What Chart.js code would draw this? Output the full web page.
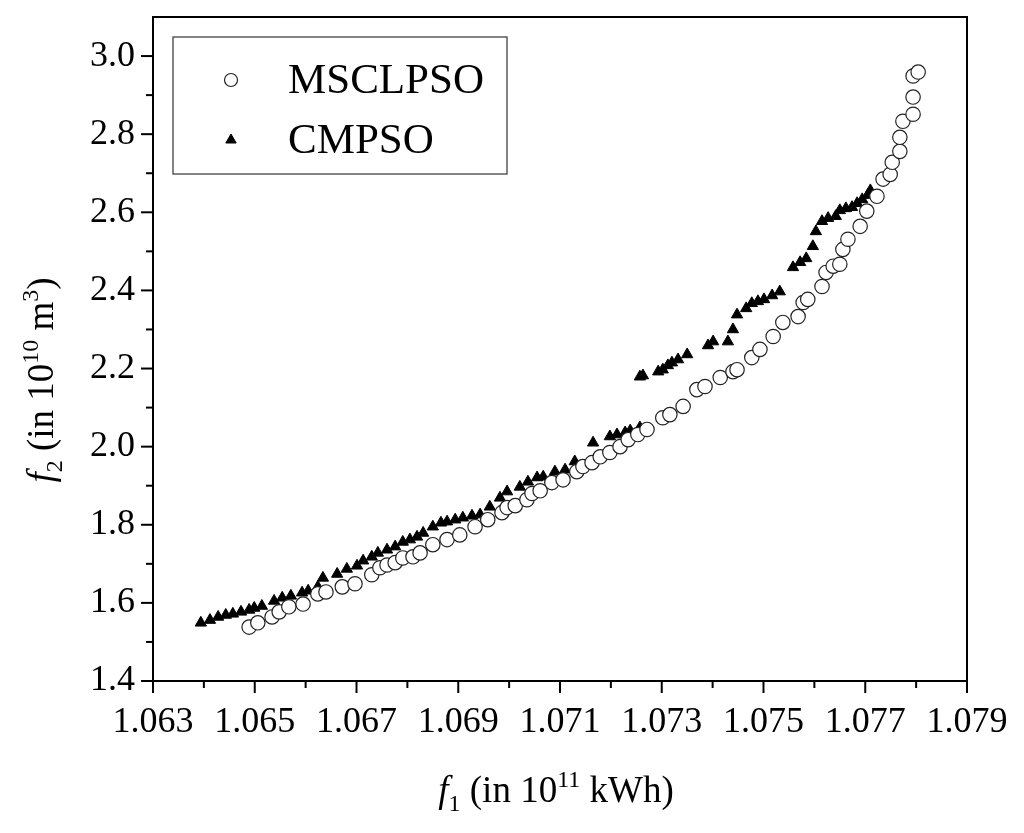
<!DOCTYPE html>
<html>
<head>
<meta charset="utf-8">
<script src="https://cdn.jsdelivr.net/npm/chart.js@4.4.1/dist/chart.umd.min.js"></script>
<style>
  html, body { margin: 0; background: #fff; }
  #wrap { width: 1024px; height: 833px; }
</style>
</head>
<body>
<div id="wrap"><canvas id="chart"></canvas></div>
<script>
// values
const msclpsoF1 = [1.06489,1.06506,1.06534,1.06548,1.06567,1.06595,1.06624,1.06640,1.06672,1.06697,
  1.06730,1.06746,1.06760,1.06776,1.06791,1.06811,1.06825,1.06850,1.06878,1.06903,
  1.06933,1.06958,1.06986,1.06996,1.07012,1.07035,1.07045,1.07061,1.07084,1.07106,
  1.07133,1.07145,1.07163,1.07179,1.07198,1.07218,1.07234,1.07253,1.07271,1.07302,
  1.07316,1.07342,1.07369,1.07385,1.07415,1.07440,1.07448,1.07477,1.07493,1.07519,
  1.07538,1.07568,1.07578,1.07587,1.07615,1.07623,1.07637,1.07650,1.07656,1.07666,
  1.07690,1.07703,1.07723,1.07735,1.07749,1.07753,1.07768,1.07768,1.07774,1.07794,
  1.07794,1.07794,1.07804];
const msclpsoF2 = [1.538,1.549,1.564,1.577,1.590,1.597,1.623,1.628,1.641,1.649,
  1.672,1.690,1.697,1.703,1.715,1.718,1.728,1.749,1.762,1.774,
  1.795,1.813,1.831,1.844,1.849,1.864,1.880,1.887,1.908,1.915,
  1.936,1.949,1.959,1.974,1.985,2.000,2.018,2.031,2.044,2.074,
  2.082,2.103,2.146,2.154,2.177,2.192,2.197,2.228,2.249,2.282,
  2.318,2.333,2.369,2.377,2.410,2.446,2.462,2.467,2.505,2.531,
  2.564,2.603,2.641,2.685,2.697,2.728,2.756,2.792,2.833,2.851,
  2.895,2.949,2.959];

const cmpsoF1 = [1.06394,1.06412,1.06428,1.06443,1.06457,1.06473,1.06489,1.06499,1.06514,1.06538,
  1.06554,1.06571,1.06593,1.06605,1.06624,1.06634,1.06662,1.06681,1.06701,1.06713,
  1.06730,1.06742,1.06760,1.06776,1.06791,1.06805,1.06819,1.06831,1.06850,1.06866,
  1.06878,1.06894,1.06909,1.06927,1.06943,1.06962,1.06982,1.06996,1.07021,1.07037,
  1.07055,1.07067,1.07090,1.07110,1.07129,1.07165,1.07198,1.07212,1.07228,1.07238,
  1.07257,1.07257,1.07263,1.07293,1.07302,1.07312,1.07320,1.07332,1.07350,1.07391,
  1.07401,1.07430,1.07440,1.07448,1.07466,1.07477,1.07489,1.07501,1.07517,1.07532,
  1.07558,1.07572,1.07584,1.07597,1.07603,1.07615,1.07627,1.07642,1.07650,1.07662,
  1.07674,1.07684,1.07694,1.07705,1.07710];
const cmpsoF2 = [1.549,1.556,1.564,1.569,1.572,1.577,1.582,1.587,1.592,1.605,
  1.613,1.618,1.626,1.631,1.641,1.664,1.674,1.687,1.695,1.708,
  1.718,1.728,1.736,1.744,1.756,1.762,1.769,1.779,1.795,1.805,
  1.808,1.813,1.818,1.823,1.826,1.846,1.869,1.885,1.897,1.910,
  1.921,1.923,1.936,1.941,1.962,2.010,2.026,2.031,2.036,2.041,
  2.049,2.179,2.182,2.192,2.197,2.208,2.215,2.223,2.236,2.259,
  2.269,2.269,2.300,2.338,2.354,2.367,2.372,2.377,2.387,2.397,
  2.459,2.472,2.482,2.513,2.551,2.577,2.585,2.590,2.605,2.610,
  2.613,2.623,2.633,2.644,2.656];

const seriesNames = ['MSCLPSO', 'CMPSO'];
const xRange = [1.063, 1.079];
const yRange = [1.4, 3.1];

const SERIF = '"Liberation Serif", "DejaVu Serif", serif';

function pairs(xs, ys) {
  return xs.map((x, i) => ({ x: x, y: ys[i] }));
}

// text with italic letter, sub- and superscripts
function richText(ctx, parts, cx, baseline) {
  let total = 0;
  parts.forEach(p => { ctx.font = p.font; p.w = ctx.measureText(p.t).width; total += p.w; });
  let x = cx - total / 2;
  ctx.fillStyle = '#000';
  ctx.textBaseline = 'alphabetic';
  ctx.textAlign = 'left';
  parts.forEach(p => {
    ctx.font = p.font;
    ctx.fillText(p.t, x, baseline + (p.dy || 0));
    x += p.w;
  });
}

const big = '37px ' + SERIF, small = '24px ' + SERIF, ital = 'italic 37px ' + SERIF;

const framePlugin = {
  id: 'frame',
  afterDraw(chart) {
    const ctx = chart.ctx;
    const a = chart.chartArea;
    ctx.save();
    ctx.strokeStyle = '#000';
    ctx.lineWidth = 2;
    ctx.strokeRect(a.left, a.top, a.right - a.left, a.bottom - a.top);

    // tick marks, long ones where a label is
    const xs = chart.scales.x;
    xs.ticks.forEach((t, i) => {
      const px = xs.getPixelForTick(i);
      const len = t.label ? 12 : 7;
      ctx.beginPath(); ctx.moveTo(px, a.bottom); ctx.lineTo(px, a.bottom + len); ctx.stroke();
    });
    const ys = chart.scales.y;
    ys.ticks.forEach((t, i) => {
      if (t.value > 3.05) return;
      const py = ys.getPixelForTick(i);
      const len = t.label ? 12 : 7;
      ctx.beginPath(); ctx.moveTo(a.left, py); ctx.lineTo(a.left - len, py); ctx.stroke();
    });

    // axis titles
    richText(ctx, [
      { t: 'f', font: ital },
      { t: '1', font: small, dy: 9 },
      { t: ' (in 10', font: big },
      { t: '11', font: small, dy: -15 },
      { t: ' kWh)', font: big }
    ], 556, 802);

    ctx.save();
    ctx.translate(53, 380);
    ctx.rotate(-Math.PI / 2);
    richText(ctx, [
      { t: 'f', font: ital },
      { t: '2', font: small, dy: 9 },
      { t: ' (in 10', font: big },
      { t: '10', font: small, dy: -15 },
      { t: ' m', font: big },
      { t: '3', font: small, dy: -15 },
      { t: ')', font: big }
    ], 0, 0);
    ctx.restore();

    // legend box inside the plot
    const bx = a.left + 20, by = a.top + 20, bw = 334, bh = 137;
    ctx.lineWidth = 1.2;
    ctx.strokeStyle = '#333';
    ctx.fillStyle = '#fff';
    ctx.fillRect(bx, by, bw, bh);
    ctx.strokeRect(bx, by, bw, bh);
    chart.data.datasets.forEach((ds, i) => {
      const cy = by + 43 + i * 60;
      const mx = bx + 58;
      ctx.save();
      ctx.lineWidth = ds.borderWidth;
      ctx.strokeStyle = ds.borderColor;
      ctx.fillStyle = ds.backgroundColor;
      ctx.beginPath();
      if (ds.pointStyle === 'circle') {
        ctx.arc(mx, cy, 6.5, 0, Math.PI * 2);
      } else {
        const r = 6;
        ctx.moveTo(mx, cy - r);
        ctx.lineTo(mx + r * 0.866, cy + r * 0.5);
        ctx.lineTo(mx - r * 0.866, cy + r * 0.5);
        ctx.closePath();
      }
      ctx.fill();
      ctx.stroke();
      ctx.restore();
      ctx.fillStyle = '#000';
      ctx.font = '43px ' + SERIF;
      ctx.textAlign = 'left';
      ctx.textBaseline = 'middle';
      ctx.fillText(ds.label, bx + 115, cy + 2);
    });
    ctx.restore();
  }
};

new Chart(document.getElementById('chart'), {
  type: 'scatter',
  data: {
    datasets: [
      {
        label: seriesNames[0],
        data: pairs(msclpsoF1, msclpsoF2),
        pointStyle: 'circle',
        pointRadius: 7.2,
        backgroundColor: '#fff',
        borderColor: '#222',
        borderWidth: 1.2,
        order: 1
      },
      {
        label: seriesNames[1],
        data: pairs(cmpsoF1, cmpsoF2),
        pointStyle: 'triangle',
        pointRadius: 6.5,
        backgroundColor: '#000',
        borderColor: '#000',
        borderWidth: 1,
        order: 2
      }
    ]
  },
  options: {
    responsive: true,
    maintainAspectRatio: false,
    animation: false,
    layout: { padding: { top: 17, right: 57, left: 0, bottom: 0 } },
    plugins: {
      legend: { display: false },
      tooltip: { enabled: false }
    },
    scales: {
      x: {
        type: 'linear',
        min: xRange[0],
        max: xRange[1],
        grid: { display: false, drawTicks: false },
        border: { display: false },
        ticks: {
          stepSize: 0.001,
          autoSkip: false,
          maxRotation: 0,
          padding: 20,
          color: '#000',
          font: { family: SERIF, size: 36 },
          callback: (v, i) => (i % 2 === 0 ? v.toFixed(3) : '')
        },
        afterFit: s => { s.height = 152; s.paddingLeft = 0; s.paddingRight = 0; }
      },
      y: {
        type: 'linear',
        min: yRange[0],
        max: yRange[1],
        grid: { display: false, drawTicks: false },
        border: { display: false },
        ticks: {
          stepSize: 0.1,
          autoSkip: false,
          padding: 18,
          color: '#000',
          font: { family: SERIF, size: 36 },
          callback: (v, i) => (i % 2 === 0 && v < 3.05 ? v.toFixed(1) : '')
        },
        afterFit: s => { s.width = 153; s.paddingTop = 0; s.paddingBottom = 0; }
      }
    }
  },
  plugins: [framePlugin]
});
</script>
</body>
</html>
